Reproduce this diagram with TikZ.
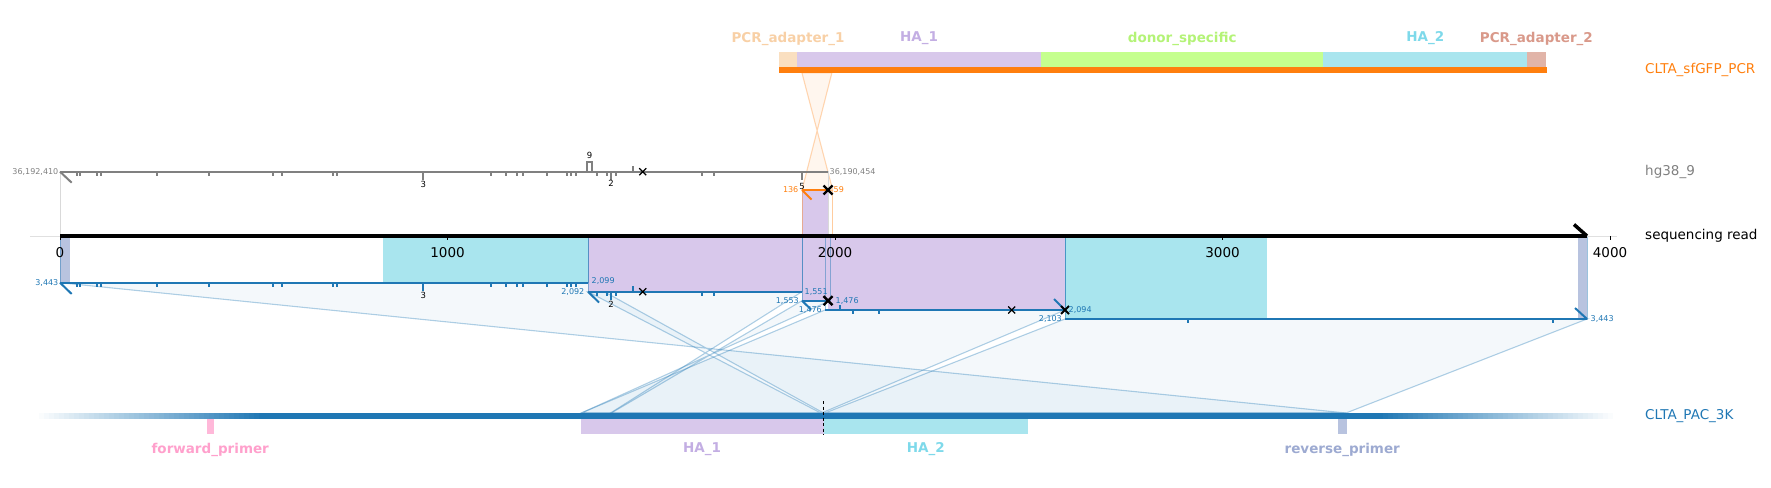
\documentclass[tikz,border=0pt]{standalone}
\usepackage{fontspec}
\setmainfont{DejaVu Sans}
\usetikzlibrary{positioning, shapes.misc}
\definecolor{kblue}{HTML}{1F77B4}
\definecolor{korange}{HTML}{FF7F0E}
\definecolor{kgray}{HTML}{808080}
\definecolor{kadaptA}{HTML}{FADFC0}
\definecolor{kadaptAtxt}{HTML}{F8D0A6}
\definecolor{khaA}{HTML}{D8C8EB}
\definecolor{khaAtxt}{HTML}{C3AEE3}
\definecolor{kdonor}{HTML}{C5FF8E}
\definecolor{kdonortxt}{HTML}{B4F377}
\definecolor{khaB}{HTML}{A9E5EE}
\definecolor{khaBtxt}{HTML}{7ED9EA}
\definecolor{kadaptB}{HTML}{E1B4A8}
\definecolor{kadaptBtxt}{HTML}{D9998A}
\definecolor{kfwd}{HTML}{FFB8D9}
\definecolor{kfwdtxt}{HTML}{FFA0CC}
\definecolor{krev}{HTML}{B8C3DF}
\definecolor{krevtxt}{HTML}{9DAAD1}
\tikzset{
  featbox/.style={inner sep=0pt, outer sep=0pt, draw=none, minimum height=15pt, anchor=north west},
  featlbl/.style={font=\fontsize{13.5}{16}\selectfont\bfseries, inner sep=0pt},
  tracklbl/.style={font=\fontsize{13.5}{16}\selectfont, anchor=west, inner sep=0pt},
  numlbl/.style={font=\fontsize{8}{9}\selectfont, inner sep=1.5pt},
  mmlbl/.style={font=\fontsize{8.5}{9}\selectfont, inner sep=0pt, text=black},
  axlbl/.style={font=\fontsize{13.5}{16}\selectfont, inner sep=0pt},
  alnbox/.style={draw=kblue, draw opacity=0.45, line width=1pt},
  conn/.style={draw=kblue, draw opacity=0.35, line width=1.1pt, fill=kblue, fill opacity=0.05},
  segline/.style={kblue, line width=2pt},
  xm/.style={draw=black, cross out, inner sep=0pt, outer sep=0pt, minimum size=7pt, line width=1.2pt},
  xmbold/.style={xm, minimum size=9pt, line width=2.4pt},
}
\def\mmshared{77.3,79.5,97.3,100.7,156.7,209,272.7,281.7,333.3,337.3,491,506,516.7,523.3,546.7,567.3,570.7,575.7}
\def\mmlate{596.7,606.7,615.7,701.7,714.3}

\begin{document}
\begin{tikzpicture}[x=1pt, y=-1pt]
  \useasboundingbox (0,0) rectangle (1771,487);
  \tikzstyle{connorange} = [draw=korange, draw opacity=0.3, line width=1.1pt, fill=korange, fill opacity=0.07]

  %% named points: read segments and reference positions
  \coordinate (s1L) at (60,282.7);   \coordinate (s1R) at (588,282.7);
  \coordinate (s2L) at (588,291.7);  \coordinate (s2R) at (802,291.7);
  \coordinate (s3L) at (802,300.7);  \coordinate (s3R) at (830,300.7);
  \coordinate (s4L) at (825,310);    \coordinate (s4R) at (1065,310);
  \coordinate (s5L) at (1065,319);   \coordinate (s5R) at (1587,319);
  \coordinate (r3443) at (1346,413); \coordinate (r2099) at (823.5,413);
  \coordinate (r2092) at (820.8,413); \coordinate (r1551) at (610.5,413);
  \coordinate (r1553) at (611.3,413); \coordinate (r1476) at (581.3,413);
  \coordinate (r2094) at (821.6,413); \coordinate (r2103) at (825,413);
  \coordinate (pcr59) at (801.9,72.7); \coordinate (pcr136) at (831.9,72.7);
  \coordinate (oL) at (802,190);     \coordinate (oR) at (832.7,190);
  \coordinate (hgL) at (60,171.7);   \coordinate (hgR) at (828,171.7);

  %% links read -> CLTA_PAC_3K
  \filldraw[conn] (s1L) -- (s1R) -- (r2099) -- (r3443) -- cycle;
  \filldraw[conn] (s2L) -- (s2R) -- (r1551) -- (r2092) -- cycle;
  \filldraw[conn] (s3L) -- (s3R) -- (r1476) -- (r1553) -- cycle;
  \filldraw[conn] (s4L) -- (s4R) -- (r2094) -- (r1476) -- cycle;
  \filldraw[conn] (s5L) -- (s5R) -- (r3443) -- (r2103) -- cycle;
  %% link read -> CLTA_sfGFP_PCR
  \filldraw[connorange] (pcr136) -- (oL) -- (oR) -- (pcr59) -- cycle;

  %% CLTA_sfGFP_PCR
  \node[featbox, fill=kadaptA, minimum width=18pt] (pcrad1) at (779,52) {};
  \node[featbox, fill=khaA, minimum width=244pt] (pcrha1) at (797,52) {};
  \node[featbox, fill=kdonor, minimum width=282.4pt] (pcrdonor) at (1041,52) {};
  \node[featbox, fill=khaB, minimum width=203.6pt] (pcrha2) at (1323.4,52) {};
  \node[featbox, fill=kadaptB, minimum width=18.7pt] (pcrad2) at (1527,52) {};
  \fill[korange] (779,67) rectangle (1546.5,72.7);
  \node[featlbl, text=kadaptAtxt] (lblad1) at ([yshift=13.5pt]pcrad1.north) {PCR\_adapter\_1};
  \node[featlbl, text=khaAtxt] (lblha1) at ([yshift=13.5pt]pcrha1.north) {HA\_1};
  \node[featlbl, text=kdonortxt] (lbldonor) at ([yshift=13.5pt]pcrdonor.north) {donor\_specific};
  \node[featlbl, text=khaBtxt] (lblha2) at ([yshift=13.5pt]pcrha2.north) {HA\_2};
  \node[featlbl, text=kadaptBtxt] (lblad2) at ([yshift=13.5pt]pcrad2.north) {PCR\_adapter\_2};
  \node[tracklbl, text=korange] (trkpcr) at (1645,69.5) {CLTA\_sfGFP\_PCR};

  %% features on the read
  \fill[krev] (60,236) rectangle (70,282.7);
  \fill[khaB] (382.7,236) rectangle (588,282.7);
  \fill[khaA] (588,236) rectangle (802,291.7);
  \fill[khaA] (802,190) rectangle (828,300.7);
  \fill[khaA] (828,236) rectangle (1065,310);
  \fill[khaB] (1065,236) rectangle (1267,319);
  \fill[krev] (1578,236) rectangle (1587,319);

  %% alignment boxes
  \draw[black!15, line width=1pt] (hgL) rectangle (828,236);
  \draw[korange, draw opacity=0.4, line width=1pt] (oL) rectangle (832.7,236);
  \draw[alnbox] (60,236) rectangle (s1R);
  \draw[alnbox] (588,236) rectangle (s2R);
  \draw[alnbox] (802,236) rectangle (s3R);
  \draw[alnbox] (825,236) rectangle (s4R);
  \draw[alnbox] (1065,236) rectangle (s5R);

  %% sequencing read axis
  \draw[black!12, line width=1pt] (30,236) -- (1617,236);
  \foreach \v/\x in {0/60, 1000/447.5, 2000/835, 3000/1222.5, 4000/1610} {
    \draw[black, line width=0.8pt] (\x,236) -- ++(0,4);
    \node[axlbl] (ax\v) at (\x,252.3) {\v};
  }
  \draw[black, line width=3.5pt] (60,236) -- (1587,236);
  \draw[black, line width=3.5pt] (1574,224.5) -- (1587,236);
  \node[tracklbl] (trkread) at (1645,236) {sequencing read};

  %% hg38_9
  \draw[kgray, line width=2pt] (hgL) -- (hgR);
  \draw[kgray, line width=2pt] (hgL) -- ++(11.7,11);
  \foreach \x in \mmshared {\draw[kgray, line width=2pt] (\x,171.7) -- ++(0,4.3);}
  \foreach \x in \mmlate {\draw[kgray, line width=2pt] (\x,171.7) -- ++(0,4.3);}
  \foreach \x in {423.3, 611, 801.7} {\draw[kgray, line width=2pt] (\x,171.7) -- ++(0,8);}
  \draw[kgray, line width=2pt] (633.3,171.7) -- ++(0,-5.7);
  \draw[kgray, line width=2pt] (587.3,171.7) -- (587.3,162.3) -- (591.7,162.3) -- (591.7,171.7);
  \node[mmlbl] (hgins) at (589.5,155.5) {9};
  \node[mmlbl] (hgm3) at (423.3,184) {3};
  \node[mmlbl] (hgm2) at (611,183.5) {2};
  \node[mmlbl] (hgm5) at (802,186.5) {5};
  \node[xm] (hgx) at (642.7,171.7) {};
  \node[numlbl, text=kgray, anchor=east] (hgstart) at (hgL) {36,192,410};
  \node[numlbl, text=kgray, anchor=west] (hgend) at (hgR) {36,190,454};
  \node[tracklbl, text=kgray] (trkhg) at (1645,171.7) {hg38\_9};

  %% alignment to CLTA_sfGFP_PCR
  \draw[korange, line width=2pt] (oL) -- (828,190);
  \draw[korange, line width=2pt] (oL) -- ++(9.5,9.5);
  \node[xmbold] (ox) at (828,190) {};
  \node[numlbl, text=korange, anchor=east] (o136) at (800,190) {136};
  \node[numlbl, text=korange, anchor=west] (o59) at (832,190) {59};

  %% alignments to CLTA_PAC_3K
  \draw[segline] (s1L) -- (s1R);
  \draw[segline] (s1L) -- ++(11.7,11.3);
  \foreach \x in \mmshared {\draw[segline] (\x,282.7) -- ++(0,4.3);}
  \draw[segline] (423.3,282.7) -- ++(0,8);
  \node[mmlbl] (s1m3) at (423.3,295) {3};
  \node[numlbl, text=kblue, anchor=east] (s1a) at (s1L) {3,443};
  \node[numlbl, text=kblue, anchor=west] (s1b) at (590,281) {2,099};

  \draw[segline] (s2L) -- (s2R);
  \draw[segline] (s2L) -- ++(11,10.8);
  \foreach \x in \mmlate {\draw[segline] (\x,291.7) -- ++(0,4.3);}
  \draw[segline] (611,291.7) -- ++(0,8);
  \draw[segline] (633.3,291.7) -- ++(0,-5.7);
  \node[mmlbl] (s2m2) at (611,304) {2};
  \node[xm] (s2x) at (642.7,291.7) {};
  \node[numlbl, text=kblue, anchor=east] (s2a) at (586,291.7) {2,092};
  \node[numlbl, text=kblue, anchor=west] (s2b) at (803,291.7) {1,551};

  \draw[segline] (s3L) -- (s3R);
  \draw[segline] (s3L) -- ++(9,8.8);
  \node[xmbold] (s3x) at (828,300.7) {};
  \node[numlbl, text=kblue, anchor=east] (s3a) at (800.5,300.7) {1,553};
  \node[numlbl, text=kblue, anchor=west] (s3b) at (834,300.7) {1,476};

  \draw[segline] (s4L) -- (s4R);
  \draw[segline] (s4R) -- ++(-11,-11);
  \draw[segline] (840,310) -- ++(0,-5.5);
  \foreach \x in {853.3, 879.3} {\draw[segline] (\x,310) -- ++(0,4.3);}
  \node[xm] (s4x) at (1011.7,310) {};
  \node[xm, line width=1.8pt, minimum size=8pt] (s4xend) at (s4R) {};
  \node[numlbl, text=kblue, anchor=east] (s4a) at (823.5,309.5) {1,476};
  \node[numlbl, text=kblue, anchor=west] (s4b) at (1067,309.5) {2,094};

  \draw[segline] (s5L) -- (s5R);
  \draw[segline] (s5R) -- ++(-12,-11);
  \foreach \x in {1188, 1553} {\draw[segline] (\x,319) -- ++(0,4.3);}
  \node[numlbl, text=kblue, anchor=east] (s5a) at (1063.5,318.5) {2,103};
  \node[numlbl, text=kblue, anchor=west] (s5b) at (1589,319) {3,443};

  %% CLTA_PAC_3K, faded at both ends
  \foreach \i [evaluate=\i as \p using \i*100/45] in {0,...,45}
    {\fill[kblue!\p] (34+\i*5,413) rectangle ++(5.4,6);}
  \fill[kblue] (263.5,413) rectangle (1378.5,419);
  \foreach \i [evaluate=\i as \p using 100-\i*100/47] in {0,...,47}
    {\fill[kblue!\p] (1378+\i*5,413) rectangle ++(5.4,6);}
  \node[featbox, fill=kfwd, minimum width=6.5pt] (reffwd) at (207,419) {};
  \node[featbox, fill=khaA, minimum width=243pt] (refha1) at (580.5,419) {};
  \node[featbox, fill=khaB, minimum width=204.5pt] (refha2) at (823.5,419) {};
  \node[featbox, fill=krev, minimum width=8.5pt] (refrev) at (1338,419) {};
  \draw[black, line width=1.2pt, dash pattern=on 3pt off 2.5pt] (823.5,401) -- (823.5,435);
  \node[featlbl, text=kfwdtxt] (lblfwd) at ([yshift=-15.5pt]reffwd.south) {forward\_primer};
  \node[featlbl, text=khaAtxt] (lblrha1) at ([yshift=-15.5pt]refha1.south) {HA\_1};
  \node[featlbl, text=khaBtxt] (lblrha2) at ([yshift=-15.5pt]refha2.south) {HA\_2};
  \node[featlbl, text=krevtxt] (lblrev) at ([yshift=-15.5pt]refrev.south) {reverse\_primer};
  \node[tracklbl, text=kblue] (trkpac) at (1645,416) {CLTA\_PAC\_3K};

\end{tikzpicture}
\end{document}
